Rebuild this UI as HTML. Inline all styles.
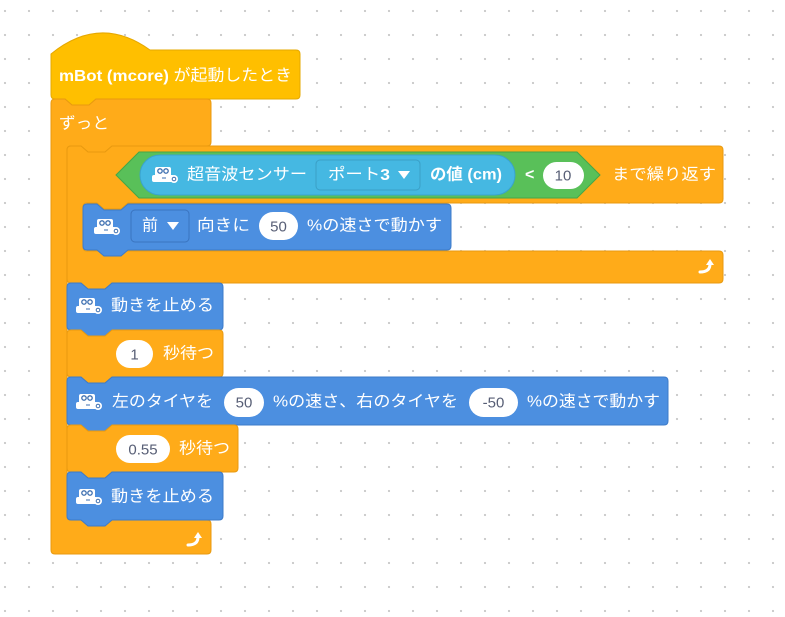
<!DOCTYPE html>
<html><head><meta charset="utf-8"><style>
html,body{margin:0;padding:0;}
body{width:785px;height:617px;overflow:hidden;background-color:#fff;
background-image:radial-gradient(circle,#c8c8c8 0.9px,transparent 1.3px);
background-size:24px 24px;background-position:-7px -1px;}
svg{position:absolute;left:0;top:0;}
text{font-family:"Liberation Sans","Noto Sans CJK JP",sans-serif;font-size:16px;fill:#fff;dominant-baseline:central;}
.in{fill:#575e75;text-anchor:middle;font-size:15px;}
</style></head><body>
<svg width="785" height="617" viewBox="0 0 785 617">
<defs>
<g id="bot">
<rect x="3" y="0" width="16" height="10" rx="2" fill="#fff"/>
<circle cx="8" cy="4" r="2.2" fill="none" stroke="#3d6fb0" stroke-width="1.3"/>
<circle cx="14" cy="4" r="2.2" fill="none" stroke="#3d6fb0" stroke-width="1.3"/>
<rect x="0" y="8" width="22" height="7" rx="2" fill="#fff"/>
<circle cx="22" cy="12" r="4" fill="#fff"/>
<circle cx="22" cy="12" r="1.8" fill="none" stroke="#3d6fb0" stroke-width="1"/>
<path d="M10,11 h4" stroke="#3d6fb0" stroke-width="1"/>
</g>
<g id="loop">
<path d="M-7,5 Q3,5 3,-3" fill="none" stroke="#fff" stroke-width="3" stroke-linecap="round"/>
<polygon points="-1,-2 3,-8 7,-2" fill="#fff"/>
</g>
</defs>
<!-- Hat -->
<path d="M51,54 Q100,14 150,50 H296 Q300,50 300,54 V95 Q300,99 296,99 H96 l-7,6 h-17 l-7,-6 H55 Q51,99 51,95 Z" fill="#ffbf00" stroke="#e6a800"/>
<text x="59" y="76" textLength="233" lengthAdjust="spacingAndGlyphs"><tspan font-weight="bold">mBot (mcore)</tspan> が起動したとき</text>
<!-- Forever -->
<path d="M51,103 Q51,99 55,99 H65 l7,6 h17 l7,-6 H207 Q211,99 211,103 V142 Q211,146 207,146 H112 l-7,6 h-17 l-7,-6 H71 Q67,146 67,150 V516 Q67,520 71,520 H207 Q211,520 211,524 V550 Q211,554 207,554 H55 Q51,554 51,550 Z" fill="#ffab19" stroke="#e89a10"/>
<text x="59" y="124" textLength="50" lengthAdjust="spacingAndGlyphs">ずっと</text>
<use href="#loop" x="195" y="540"/>
<!-- Repeat until -->
<path d="M67,150 Q67,146 71,146 H81 l7,6 h17 l7,-6 H719 Q723,146 723,150 V199 Q723,203 719,203 H128 l-7,6 h-17 l-7,-6 H87 Q83,203 83,207 V247 Q83,251 87,251 H719 Q723,251 723,255 V279 Q723,283 719,283 H112 l-7,6 h-17 l-7,-6 H71 Q67,283 67,279 Z" fill="#ffab19" stroke="#e89a10"/>
<use href="#loop" x="707" y="267"/>
<polygon points="116,175 139,152 577,152 600,175 577,198 139,198" fill="#59c059" stroke="#46a646"/>
<rect x="140" y="155" width="375" height="40" rx="20" fill="#45b8e2" stroke="#3aa3cc"/>
<use href="#bot" x="152" y="167"/>
<text x="187" y="175" textLength="120" lengthAdjust="spacingAndGlyphs">超音波センサー</text>
<rect x="316" y="160" width="104" height="30" rx="4" fill="#45b8e2" stroke="#3a9fc6"/>
<text x="328" y="175" textLength="62" lengthAdjust="spacingAndGlyphs">ポート<tspan font-weight="bold">3</tspan></text>
<polygon points="398,171 410,171 404,179" fill="#fff"/>
<text x="430" y="175" font-weight="bold" textLength="72" lengthAdjust="spacingAndGlyphs">の値 (cm)</text>
<text x="525" y="175" font-weight="bold">&lt;</text>
<rect x="543" y="162" width="41" height="27" rx="13.5" fill="#fff"/>
<text class="in" x="563" y="176">10</text>
<text x="612" y="175" textLength="104" lengthAdjust="spacingAndGlyphs">まで繰り返す</text>
<!-- Move forward -->
<path d="M83,208 Q83,204 87,204 H97 l7,6 h17 l7,-6 H447 Q451,204 451,208 V246 Q451,250 447,250 H128 l-7,6 h-17 l-7,-6 H87 Q83,250 83,246 Z" fill="#4c8fe0" stroke="#3d7bc9"/>
<use href="#bot" x="94" y="219"/>
<rect x="131" y="210" width="58" height="32" rx="4" fill="#4c8fe0" stroke="#3a74bf"/>
<text x="142" y="226">前</text>
<polygon points="167,222 179,222 173,230" fill="#fff"/>
<text x="197" y="226" textLength="53" lengthAdjust="spacingAndGlyphs">向きに</text>
<rect x="259" y="212" width="39" height="28" rx="14" fill="#fff"/>
<text class="in" x="278.5" y="227">50</text>
<text x="307" y="226" textLength="135" lengthAdjust="spacingAndGlyphs">%の速さで動かす</text>
<!-- Stop 1 -->
<path d="M67,287 Q67,283 71,283 H81 l7,6 h17 l7,-6 H219 Q223,283 223,287 V326 Q223,330 219,330 H112 l-7,6 h-17 l-7,-6 H71 Q67,330 67,326 Z" fill="#4c8fe0" stroke="#3d7bc9"/>
<use href="#bot" x="76" y="298"/>
<text x="111" y="306" textLength="103" lengthAdjust="spacingAndGlyphs">動きを止める</text>
<!-- Wait 1 -->
<path d="M67,334 Q67,330 71,330 H81 l7,6 h17 l7,-6 H219 Q223,330 223,334 V373 Q223,377 219,377 H112 l-7,6 h-17 l-7,-6 H71 Q67,377 67,373 Z" fill="#ffab19" stroke="#e89a10"/>
<rect x="116" y="340" width="37" height="28" rx="14" fill="#fff"/>
<text class="in" x="134.5" y="355">1</text>
<text x="163" y="354" textLength="51" lengthAdjust="spacingAndGlyphs">秒待つ</text>
<!-- Tank move -->
<path d="M67,381 Q67,377 71,377 H81 l7,6 h17 l7,-6 H664 Q668,377 668,381 V421 Q668,425 664,425 H112 l-7,6 h-17 l-7,-6 H71 Q67,425 67,421 Z" fill="#4c8fe0" stroke="#3d7bc9"/>
<use href="#bot" x="76" y="394"/>
<text x="112" y="402" textLength="101" lengthAdjust="spacingAndGlyphs">左のタイヤを</text>
<rect x="224" y="388" width="40" height="29" rx="14.5" fill="#fff"/>
<text class="in" x="244" y="403">50</text>
<text x="273" y="402" textLength="185" lengthAdjust="spacingAndGlyphs">%の速さ、右のタイヤを</text>
<rect x="469" y="388" width="49" height="29" rx="14.5" fill="#fff"/>
<text class="in" x="493.5" y="403">-50</text>
<text x="527" y="402" textLength="133" lengthAdjust="spacingAndGlyphs">%の速さで動かす</text>
<!-- Wait 0.55 -->
<path d="M67,429 Q67,425 71,425 H81 l7,6 h17 l7,-6 H234 Q238,425 238,429 V468 Q238,472 234,472 H112 l-7,6 h-17 l-7,-6 H71 Q67,472 67,468 Z" fill="#ffab19" stroke="#e89a10"/>
<rect x="116" y="435" width="54" height="28" rx="14" fill="#fff"/>
<text class="in" x="143" y="450">0.55</text>
<text x="179" y="449" textLength="51" lengthAdjust="spacingAndGlyphs">秒待つ</text>
<!-- Stop 2 -->
<path d="M67,476 Q67,472 71,472 H81 l7,6 h17 l7,-6 H219 Q223,472 223,476 V516 Q223,520 219,520 H112 l-7,6 h-17 l-7,-6 H71 Q67,520 67,516 Z" fill="#4c8fe0" stroke="#3d7bc9"/>
<use href="#bot" x="76" y="489"/>
<text x="111" y="497" textLength="103" lengthAdjust="spacingAndGlyphs">動きを止める</text>
</svg>
</body></html>
